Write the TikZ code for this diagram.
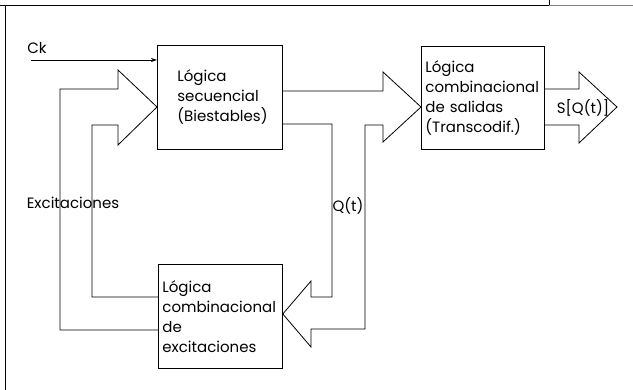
\documentclass[tikz,border=0pt]{standalone}
\usepackage{fontspec}
\setmainfont{Poppins}
\usepackage{tikz}
\usetikzlibrary{arrows.meta}
\tikzset{ caja/.style = {rectangle, draw, anchor=north west, align=left, inner ysep=0pt, font=\fontsize{15}{20}\selectfont} }
\tikzset{ etiqueta/.style = {inner sep=0pt, font=\fontsize{15}{20}\selectfont} }
\tikzset{ every path/.style = {line width=0.8pt, line join=miter} }

\begin{document}
\begin{tikzpicture}[x=1pt, y=-1pt]
            \useasboundingbox (0,0) rectangle (633,390);
            % marco
            \draw (0,5) -- (549,5);
            \draw[gray] (549,5) -- (633,5);
            \draw (549,0) -- (549,5);
            \draw (5,5) -- (5,390);
            % bloques
            \node[caja, minimum width=125pt, minimum height=104pt, text width=85pt, inner xsep=20pt] (seq) at (157,45) {L\'ogica\\secuencial\\(Biestables)};
            \node[caja, minimum width=123pt, minimum height=103pt, text width=115pt, inner xsep=4pt] (sal) at (421,46) {L\'ogica\\combinacional\\de salidas\\(Transcodif.)};
            \node[caja, minimum width=124pt, minimum height=104pt, text width=116pt, inner xsep=4pt] (exc) at (158,264) {L\'ogica\\combinacional\\de\\excitaciones};
            % reloj
            \node[etiqueta] (ck) at (37,48) {Ck};
            \coordinate (ckin) at (31,60);
            \draw[-{Stealth[length=6pt, width=4pt]}] (ckin) -- (seq.west |- ckin);
            % realimentacion de excitaciones
            \draw (exc.west |- 0,330) -- (60,330) -- (60,89) -- (118,89) -- (118,70) -- (seq.west |- 0,107)
                  -- (118,145) -- (118,125) -- (92,125) -- (92,297) -- (exc.west |- 0,297);
            % estado Q(t)
            \draw (seq.east |- 0,91) -- (383,91) -- (383,72) -- (sal.west |- 0,107) -- (383,142) -- (383,125)
                  -- (365,125) -- (365,329) -- (311,329) -- (311,347) -- (exc.east |- 0,314) -- (311,281)
                  -- (311,297) -- (332,297) -- (332,124) -- (seq.east |- 0,124);
            % salidas
            \draw (sal.east |- 0,89) -- (579,89) -- (579,72) -- (617,107) -- (579,143) -- (579,125) -- (sal.east |- 0,125);
            \node[etiqueta] (sq) at (583,108) {S[Q(t)]};
            \node[etiqueta] (ex) at (73,203) {Excitaciones};
            \node[etiqueta] (q) at (348,206) {Q(t)};
        \end{tikzpicture}
\end{document}
